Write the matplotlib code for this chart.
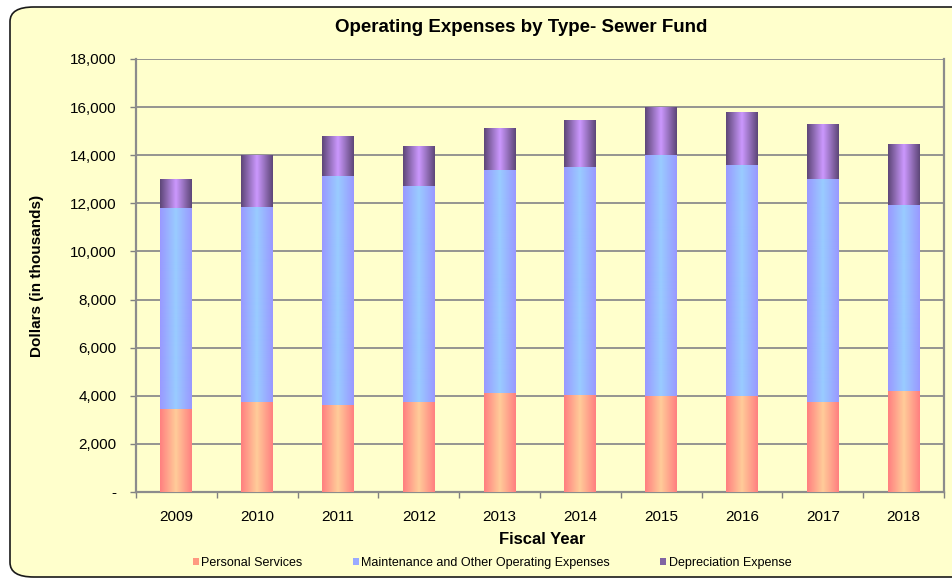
import numpy as np
import matplotlib
matplotlib.use("Agg")
import matplotlib.pyplot as plt
from matplotlib.colors import LinearSegmentedColormap
from matplotlib.patches import FancyBboxPatch

plt.rcParams['font.family'] = ['Liberation Sans', 'DejaVu Sans']

years = ['2009', '2010', '2011', '2012', '2013', '2014', '2015', '2016', '2017', '2018']
personal = [3450, 3750, 3600, 3750, 4120, 4050, 4000, 3980, 3750, 4200]
maintenance = [8350, 8100, 9540, 8980, 9260, 9450, 10000, 9620, 9250, 7750]
depreciation = [1200, 2150, 1640, 1670, 1770, 1950, 2000, 2200, 2300, 2500]

series_names = ['Personal Services', 'Maintenance and Other Operating Expenses', 'Depreciation Expense']
# edge colour, centre colour, legend colour
series_colors = [('#FF8080', '#FFCC99', '#FF9980'),
                 ('#9999FF', '#99CCFF', '#99AAFF'),
                 ('#5E4778', '#CC99FF', '#8064A2')]

fig = plt.figure(figsize=(9.52, 5.8), dpi=100)
fig.patch.set_facecolor('white')
bg = FancyBboxPatch((10 / 952, 3 / 580), 1.2, (570 / 580),
                    boxstyle="round,pad=0,rounding_size=0.025",
                    transform=fig.transFigure, facecolor='#FFFFCC',
                    edgecolor='#1a1a1a', linewidth=1.2, zorder=-10)
fig.add_artist(bg)

ax = fig.add_axes([136 / 952, 88 / 580, 808 / 952, 433 / 580])
ax.set_facecolor('#FFFFCC')

x = np.arange(len(years))
width = 0.395
bottom = np.zeros(len(years))
grad = np.linspace(0, 1, 64).reshape(1, -1)
for vals, name, (edge, center, leg) in zip([personal, maintenance, depreciation], series_names, series_colors):
    vals = np.array(vals, dtype=float)
    bars = ax.bar(x, vals, width, bottom=bottom, color=leg, label=name, zorder=2, linewidth=0)
    cmap = LinearSegmentedColormap.from_list(name, [edge, center, edge])
    for b in bars:
        x0, y0 = b.get_x(), b.get_y()
        im = ax.imshow(grad, cmap=cmap, aspect='auto', zorder=3,
                       extent=[x0, x0 + b.get_width(), y0, y0 + b.get_height()])
        im.set_clip_path(b)
    bottom += vals

ax.set_xlim(-0.5, len(years) - 0.5)
ax.set_ylim(0, 18000)
ax.set_yticks(np.arange(0, 18001, 2000))
ax.set_yticklabels(['-'] + ['{:,}'.format(v) for v in range(2000, 18001, 2000)])
ax.yaxis.grid(True, color='#8C8C8C', linewidth=1.3, zorder=1)
ax.set_axisbelow(True)

ax.set_xticks(x)
ax.set_xticklabels(years)
ax.set_xticks(np.arange(-0.5, len(years)), minor=True)
ax.tick_params(axis='x', which='major', length=0, pad=13, labelsize=11)
ax.tick_params(axis='x', which='minor', length=4, color='#808080', width=1)
ax.tick_params(axis='y', length=4, color='#808080', width=1, pad=10, labelsize=11)

for side in ['left', 'right', 'bottom']:
    ax.spines[side].set_color('#8C8C8C')
    ax.spines[side].set_linewidth(1.6)
ax.spines['top'].set_visible(False)

fig.text(521 / 952, 1 - 28 / 580, 'Operating Expenses by Type- Sewer Fund',
         ha='center', va='center', fontsize=13.5, fontweight='bold')
fig.text(37 / 952, 1 - 276 / 580, 'Dollars (in thousands)', rotation=90,
         ha='center', va='center', fontsize=11, fontweight='bold')
fig.text(542 / 952, 1 - 540 / 580, 'Fiscal Year',
         ha='center', va='center', fontsize=12, fontweight='bold')

leg = fig.legend(loc='center', bbox_to_anchor=(492 / 952, 1 - 563 / 580), ncol=3,
                 frameon=False, fontsize=9, handlelength=0.5, handleheight=0.5,
                 handletextpad=0.2, columnspacing=4.0)

fig.savefig('out.png', dpi=100, facecolor=fig.get_facecolor())
